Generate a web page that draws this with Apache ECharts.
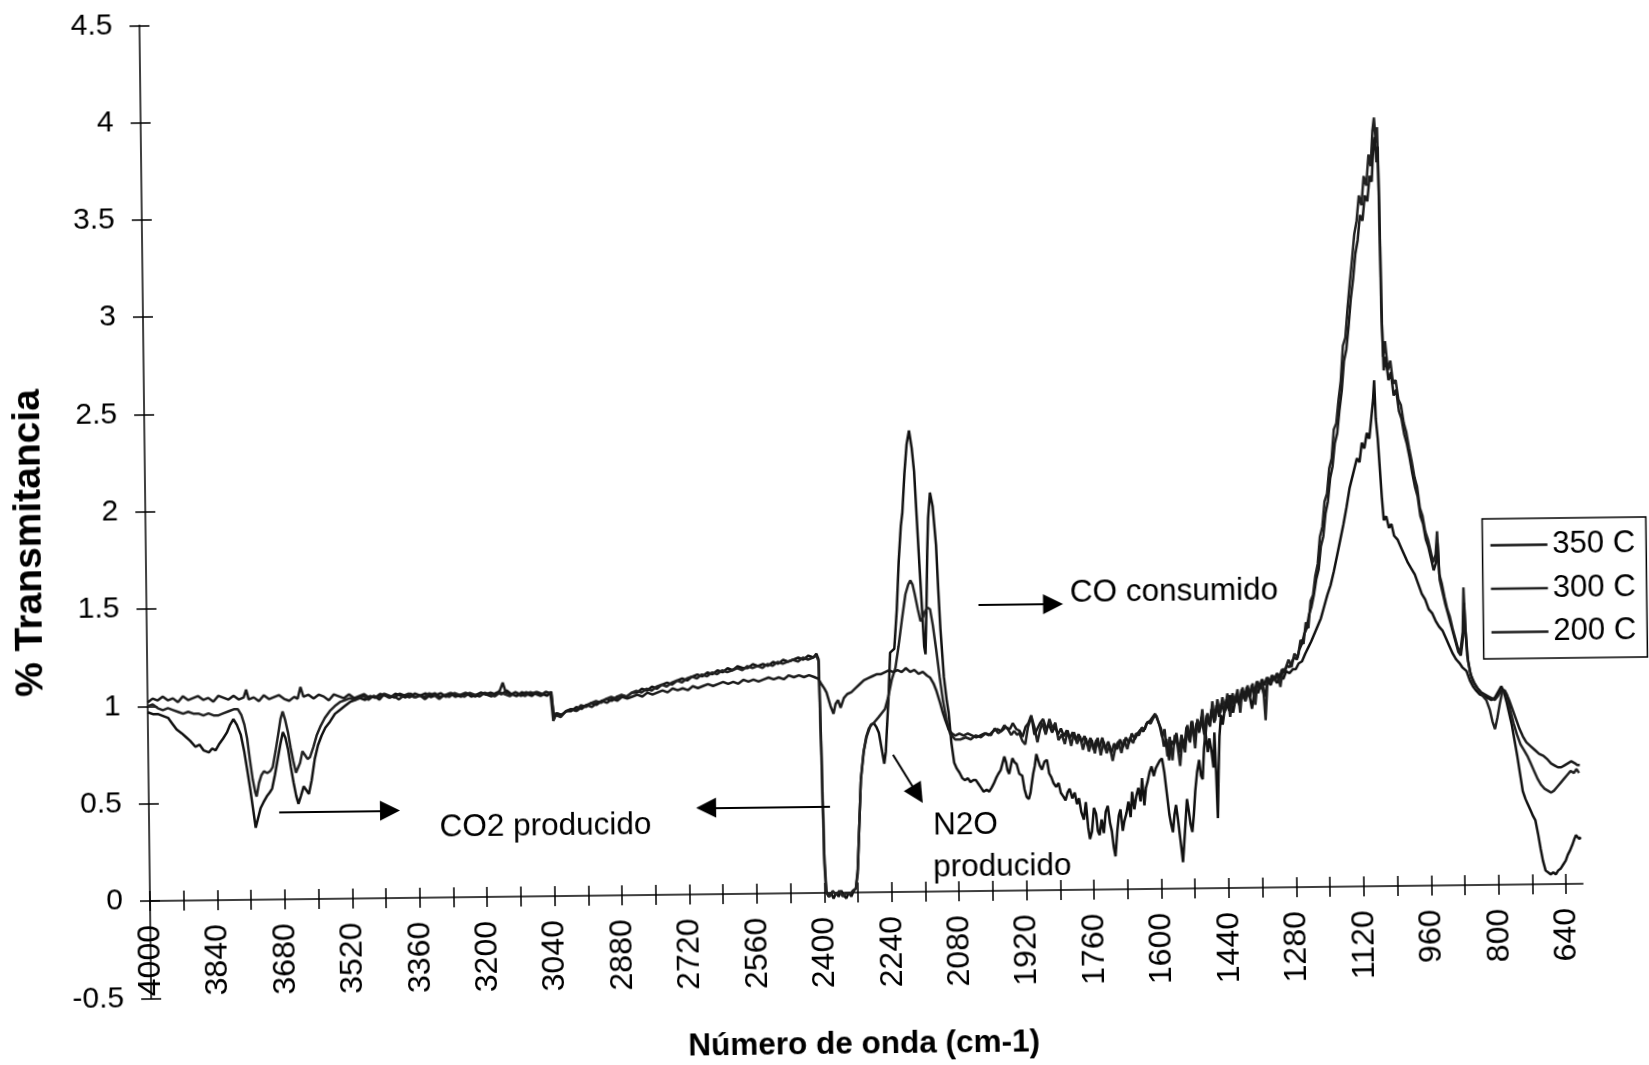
<!DOCTYPE html>
<html><head><meta charset="utf-8">
<script src="https://cdn.jsdelivr.net/npm/echarts@6/dist/echarts.min.js"></script>
<style>
html,body{margin:0;padding:0;background:#fff;overflow:hidden;width:1649px;height:1065px;}
#chart{position:absolute;left:0;top:0;width:1680px;height:1100px;transform-origin:150px 901px;transform:rotate(-0.69deg);}
</style></head><body><div id="chart"></div>
<script>
const xLabelValues = [4000,3840,3680,3520,3360,3200,3040,2880,2720,2560,2400,2240,2080,1920,1760,1600,1440,1280,1120,960,800,640];
const xTickValues = [4000,3920,3840,3760,3680,3600,3520,3440,3360,3280,3200,3120,3040,2960,2880,2800,2720,2640,2560,2480,2400,2320,2240,2160,2080,2000,1920,1840,1760,1680,1600,1520,1440,1360,1280,1200,1120,1040,960,880,800,720,640];
const seriesNames = ['350 C','300 C','200 C'];

const t350 = [[4000,0.97],[3988,0.96],[3976,0.96],[3964,0.95],[3952,0.94],[3942,0.91],[3932,0.88],[3920,0.86],[3910,0.84],[3900,0.82],[3888,0.79],[3878,0.8],[3868,0.77],[3856,0.76],[3848,0.78],[3840,0.77],[3832,0.8],[3822,0.83],[3813,0.86],[3805,0.9],[3797,0.93],[3789,0.9],[3780,0.85],[3772,0.76],[3765,0.66],[3759,0.57],[3753,0.47],[3747,0.37],[3741,0.42],[3735,0.47],[3728,0.5],[3720,0.53],[3713,0.55],[3707,0.57],[3700,0.64],[3693,0.72],[3686,0.8],[3680,0.86],[3674,0.83],[3668,0.77],[3662,0.68],[3656,0.6],[3650,0.53],[3645,0.49],[3639,0.53],[3632,0.58],[3626,0.56],[3620,0.54],[3613,0.61],[3605,0.72],[3597,0.79],[3588,0.84],[3579,0.88],[3568,0.91],[3556,0.95],[3544,0.97],[3532,0.99],[3520,1.01],[3508,1.02],[3496,1.03],[3484,1.02],[3472,1.04],[3460,1.03],[3448,1.05],[3436,1.04],[3424,1.03],[3412,1.05],[3400,1.04],[3388,1.03],[3376,1.05],[3364,1.03],[3352,1.04],[3340,1.05],[3328,1.03],[3316,1.04],[3304,1.05],[3292,1.03],[3280,1.05],[3268,1.04],[3256,1.03],[3244,1.05],[3232,1.03],[3220,1.04],[3208,1.05],[3196,1.04],[3184,1.03],[3172,1.05],[3160,1.04],[3148,1.06],[3136,1.04],[3124,1.03],[3112,1.05],[3100,1.04],[3088,1.03],[3076,1.05],[3064,1.04],[3052,1.03],[3042,1.05],[3037,0.91],[3031,0.94],[3019,0.93],[3007,0.95],[2995,0.95],[2983,0.97],[2971,0.96],[2959,0.98],[2947,0.99],[2935,0.98],[2923,1.0],[2911,1.01],[2899,1.0],[2887,1.02],[2875,1.03],[2863,1.02],[2851,1.04],[2839,1.04],[2827,1.06],[2815,1.05],[2803,1.07],[2791,1.06],[2779,1.08],[2767,1.09],[2755,1.08],[2743,1.1],[2731,1.11],[2719,1.1],[2707,1.12],[2695,1.13],[2683,1.12],[2671,1.14],[2659,1.13],[2647,1.15],[2635,1.14],[2623,1.16],[2611,1.15],[2599,1.17],[2587,1.16],[2575,1.16],[2563,1.18],[2551,1.17],[2539,1.18],[2527,1.17],[2515,1.19],[2503,1.18],[2491,1.2],[2479,1.19],[2467,1.2],[2455,1.21],[2443,1.2],[2431,1.22],[2419,1.21],[2412,1.23],[2407,1.2],[2403,0.75],[2399,0.2],[2395,0.01],[2390,-0.02],[2384,0.0],[2378,-0.03],[2372,0.0],[2366,-0.02],[2360,0.01],[2354,-0.01],[2348,-0.03],[2342,0.0],[2336,-0.02],[2330,0.01],[2325,0.02],[2320,0.1],[2316,0.3],[2310,0.58],[2302,0.73],[2296,0.8],[2290,0.84],[2284,0.86],[2278,0.87],[2272,0.85],[2266,0.82],[2260,0.74],[2254,0.66],[2250,0.72],[2247,0.83],[2242,1.0],[2237,1.23],[2232,1.24],[2227,1.25],[2220,1.45],[2214,1.7],[2208,1.88],[2204,1.95],[2198,2.15],[2192,2.3],[2186,2.37],[2180,2.28],[2175,2.16],[2170,1.92],[2165,1.68],[2160,1.45],[2156,1.26],[2153,1.22],[2149,1.5],[2146,1.75],[2143,1.92],[2138,2.05],[2132,1.98],[2125,1.78],[2121,1.55],[2117,1.35],[2110,1.1],[2104,0.98],[2100,0.92],[2094,0.76],[2088,0.66],[2082,0.63],[2076,0.61],[2069,0.58],[2063,0.57],[2056,0.58],[2050,0.56],[2043,0.57],[2037,0.57],[2031,0.55],[2025,0.53],[2019,0.51],[2012,0.52],[2006,0.51],[2000,0.53],[1995,0.55],[1989,0.58],[1984,0.6],[1978,0.62],[1974,0.61],[1969,0.69],[1965,0.66],[1962,0.62],[1958,0.6],[1955,0.63],[1950,0.68],[1945,0.66],[1940,0.65],[1934,0.6],[1927,0.59],[1922,0.52],[1917,0.48],[1912,0.47],[1908,0.5],[1905,0.545],[1901,0.6],[1897,0.64],[1893,0.7],[1890,0.7],[1885,0.64],[1880,0.62],[1874,0.66],[1868,0.67],[1863,0.6],[1858,0.58],[1853,0.55],[1847,0.53],[1841,0.55],[1836,0.5],[1830,0.48],[1825,0.46],[1820,0.5],[1815,0.52],[1809,0.47],[1803,0.5],[1798,0.44],[1793,0.47],[1788,0.4],[1782,0.36],[1777,0.45],[1772,0.32],[1768,0.26],[1763,0.3],[1758,0.42],[1753,0.39],[1749,0.3],[1745,0.28],[1740,0.36],[1735,0.29],[1730,0.4],[1725,0.43],[1720,0.34],[1716,0.3],[1712,0.22],[1708,0.17],[1703,0.3],[1699,0.38],[1695,0.41],[1690,0.3],[1686,0.35],[1681,0.39],[1676,0.45],[1671,0.37],[1667,0.5],[1662,0.41],[1657,0.48],[1652,0.52],[1647,0.45],[1643,0.57],[1638,0.43],[1634,0.52],[1630,0.55],[1625,0.6],[1620,0.63],[1615,0.58],[1610,0.62],[1605,0.64],[1600,0.66],[1595,0.67],[1590,0.6],[1586,0.52],[1583,0.46],[1579,0.38],[1575,0.33],[1571,0.29],[1567,0.38],[1563,0.43],[1559,0.36],[1555,0.28],[1551,0.2],[1548,0.135],[1545,0.22],[1541,0.34],[1537,0.46],[1533,0.4],[1529,0.33],[1525,0.29],[1521,0.38],[1517,0.5],[1512,0.6],[1507,0.66],[1503,0.58],[1499,0.56],[1495,0.72],[1491,0.8],[1486,0.7],[1482,0.77],[1477,0.7],[1473,0.62],[1470,0.8],[1467,0.6],[1464,0.36],[1461,0.6],[1458,0.78],[1454,0.89],[1450,0.84],[1446,0.9],[1440,0.93],[1432,0.99],[1425,0.9],[1418,0.98],[1410,0.94],[1402,1.0],[1395,0.96],[1388,1.02],[1380,0.92],[1372,1.03],[1365,1.0],[1358,1.05],[1350,0.98],[1342,1.06],[1335,1.04],[1328,1.08],[1320,1.05],[1312,1.09],[1305,1.07],[1298,1.11],[1290,1.1],[1282,1.12],[1275,1.12],[1268,1.15],[1260,1.16],[1252,1.2],[1245,1.23],[1238,1.26],[1230,1.3],[1222,1.34],[1214,1.38],[1206,1.44],[1198,1.5],[1190,1.55],[1182,1.62],[1174,1.7],[1166,1.78],[1158,1.86],[1150,1.95],[1142,2.05],[1136,2.1],[1130,2.15],[1124,2.2],[1118,2.18],[1112,2.28],[1106,2.25],[1100,2.33],[1094,2.3],[1088,2.42],[1084,2.5],[1081,2.6],[1078,2.4],[1074,2.3],[1070,2.15],[1066,2.0],[1062,1.88],[1056,1.9],[1050,1.84],[1044,1.86],[1038,1.8],[1030,1.78],[1022,1.74],[1014,1.7],[1006,1.66],[998,1.63],[990,1.6],[982,1.55],[974,1.5],[966,1.47],[958,1.42],[950,1.4],[942,1.36],[934,1.33],[926,1.31],[918,1.27],[910,1.23],[902,1.19],[894,1.16],[886,1.14],[880,1.12],[870,1.1],[862,1.05],[855,1.02],[848,1.0],[840,0.98],[830,0.97],[820,0.96],[812,0.95],[804,0.96],[796,0.99],[788,1.02],[782,0.99],[776,0.94],[770,0.88],[764,0.82],[758,0.74],[752,0.66],[746,0.57],[740,0.48],[734,0.44],[728,0.41],[722,0.38],[716,0.35],[711,0.33],[705,0.26],[699,0.18],[694,0.12],[688,0.07],[682,0.06],[676,0.05],[670,0.06],[664,0.05],[658,0.07],[652,0.08],[646,0.1],[640,0.12],[635,0.15],[630,0.17],[624,0.2],[619,0.23],[615,0.25],[611,0.24],[607,0.23],[604,0.24]];

const t300 = [[4000,1.0],[3988,1.01],[3976,0.99],[3964,0.98],[3952,0.99],[3940,0.98],[3928,0.97],[3916,0.96],[3904,0.97],[3892,0.96],[3880,0.96],[3868,0.95],[3856,0.96],[3844,0.95],[3832,0.95],[3820,0.96],[3808,0.97],[3796,0.98],[3786,0.98],[3778,0.95],[3771,0.9],[3765,0.83],[3759,0.72],[3753,0.62],[3747,0.55],[3744,0.53],[3738,0.6],[3732,0.64],[3726,0.66],[3718,0.65],[3711,0.66],[3705,0.68],[3698,0.76],[3691,0.85],[3685,0.93],[3680,0.965],[3674,0.92],[3668,0.86],[3662,0.78],[3656,0.71],[3650,0.65],[3646,0.64],[3640,0.7],[3634,0.76],[3628,0.74],[3622,0.72],[3616,0.73],[3608,0.78],[3600,0.84],[3590,0.89],[3580,0.93],[3568,0.965],[3556,0.99],[3544,1.01],[3532,1.02],[3520,1.03],[3508,1.02],[3500,1.03],[3488,1.04],[3476,1.02],[3464,1.04],[3452,1.03],[3440,1.05],[3428,1.03],[3416,1.04],[3404,1.02],[3392,1.04],[3380,1.05],[3368,1.03],[3356,1.04],[3344,1.03],[3332,1.05],[3320,1.04],[3308,1.02],[3296,1.04],[3284,1.03],[3272,1.05],[3260,1.04],[3248,1.03],[3236,1.05],[3224,1.04],[3212,1.03],[3200,1.05],[3188,1.04],[3176,1.03],[3164,1.05],[3152,1.04],[3140,1.03],[3128,1.05],[3116,1.04],[3104,1.03],[3092,1.05],[3080,1.04],[3068,1.03],[3056,1.05],[3044,1.04],[3038,0.9],[3032,0.93],[3020,0.92],[3008,0.95],[2996,0.96],[2984,0.95],[2972,0.98],[2960,0.97],[2948,0.99],[2936,1.0],[2924,0.99],[2912,1.01],[2900,1.02],[2888,1.01],[2876,1.03],[2864,1.02],[2852,1.04],[2840,1.05],[2828,1.04],[2816,1.06],[2804,1.05],[2792,1.07],[2780,1.08],[2768,1.07],[2756,1.09],[2744,1.1],[2732,1.09],[2720,1.11],[2708,1.12],[2696,1.11],[2684,1.13],[2672,1.12],[2660,1.14],[2648,1.13],[2636,1.15],[2624,1.14],[2612,1.15],[2600,1.16],[2588,1.15],[2576,1.17],[2564,1.16],[2552,1.17],[2540,1.16],[2528,1.18],[2516,1.17],[2504,1.19],[2492,1.18],[2480,1.19],[2468,1.2],[2456,1.19],[2444,1.21],[2432,1.2],[2420,1.21],[2412,1.22],[2407,1.19],[2403,0.7],[2399,0.15],[2395,0.0],[2388,-0.02],[2380,0.01],[2372,-0.01],[2364,0.01],[2356,-0.02],[2348,0.0],[2340,-0.01],[2332,0.01],[2325,0.02],[2320,0.12],[2315,0.35],[2310,0.58],[2303,0.72],[2295,0.8],[2285,0.86],[2278,0.87],[2266,0.9],[2251,0.94],[2243,1.0],[2234,1.09],[2225,1.15],[2217,1.26],[2208,1.4],[2199,1.53],[2192,1.58],[2187,1.6],[2182,1.58],[2177,1.53],[2170,1.45],[2164,1.39],[2158,1.41],[2153,1.44],[2147,1.46],[2141,1.45],[2135,1.37],[2128,1.25],[2120,1.1],[2113,0.98],[2105,0.88],[2097,0.81],[2085,0.78],[2073,0.78],[2060,0.79],[2048,0.78],[2036,0.8],[2024,0.79],[2012,0.81],[2000,0.8],[1991,0.835],[1983,0.81],[1976,0.82],[1968,0.85],[1960,0.83],[1952,0.8],[1945,0.82],[1938,0.8],[1933,0.81],[1926,0.77],[1919,0.75],[1912,0.84],[1904,0.895],[1897,0.84],[1890,0.76],[1884,0.82],[1878,0.86],[1870,0.8],[1861,0.88],[1854,0.83],[1847,0.86],[1840,0.77],[1832,0.8],[1825,0.75],[1818,0.82],[1810,0.74],[1803,0.81],[1796,0.75],[1789,0.79],[1782,0.72],[1775,0.78],[1768,0.71],[1761,0.77],[1754,0.7],[1747,0.78],[1740,0.69],[1733,0.76],[1726,0.7],[1719,0.74],[1712,0.66],[1705,0.73],[1698,0.76],[1691,0.7],[1684,0.77],[1677,0.72],[1670,0.78],[1663,0.75],[1656,0.8],[1649,0.79],[1642,0.83],[1635,0.82],[1628,0.86],[1621,0.85],[1614,0.88],[1607,0.89],[1600,0.84],[1594,0.78],[1588,0.82],[1582,0.68],[1576,0.78],[1570,0.66],[1564,0.79],[1558,0.74],[1552,0.63],[1546,0.77],[1540,0.7],[1534,0.84],[1528,0.75],[1522,0.86],[1516,0.72],[1510,0.87],[1504,0.82],[1498,0.92],[1492,0.76],[1486,0.9],[1480,0.83],[1474,0.96],[1468,0.86],[1462,0.97],[1456,0.9],[1450,0.98],[1444,0.92],[1438,1.0],[1432,0.88],[1426,1.0],[1420,0.95],[1414,1.02],[1408,0.9],[1402,1.03],[1396,0.96],[1390,1.04],[1384,0.98],[1378,1.05],[1372,0.94],[1366,1.06],[1360,1.02],[1354,1.07],[1348,0.86],[1342,1.08],[1336,1.05],[1330,1.09],[1324,1.06],[1318,1.1],[1312,1.03],[1306,1.12],[1300,1.12],[1292,1.17],[1285,1.13],[1278,1.2],[1270,1.18],[1263,1.27],[1256,1.25],[1250,1.36],[1244,1.33],[1238,1.47],[1232,1.5],[1226,1.6],[1220,1.66],[1214,1.8],[1208,1.85],[1202,1.98],[1196,2.02],[1190,2.15],[1184,2.2],[1178,2.35],[1172,2.38],[1166,2.5],[1160,2.6],[1154,2.78],[1148,2.82],[1142,2.97],[1136,3.1],[1130,3.22],[1124,3.35],[1118,3.42],[1112,3.55],[1106,3.5],[1100,3.65],[1094,3.6],[1088,3.76],[1083,3.7],[1078,3.88],[1074,3.95],[1070,3.82],[1067,3.9],[1064,3.5],[1062,3.0],[1059,2.72],[1054,2.8],[1048,2.65],[1042,2.7],[1036,2.58],[1030,2.6],[1024,2.5],[1018,2.47],[1012,2.38],[1006,2.33],[1000,2.25],[994,2.18],[988,2.1],[982,2.05],[976,1.94],[970,1.9],[964,1.82],[958,1.78],[952,1.72],[946,1.66],[940,1.7],[936,1.82],[932,1.6],[926,1.55],[920,1.48],[914,1.42],[908,1.38],[902,1.32],[896,1.27],[890,1.22],[884,1.2],[878,1.3],[875,1.53],[872,1.35],[868,1.18],[862,1.1],[856,1.05],[848,1.02],[840,1.0],[832,0.97],[824,0.95],[816,0.9],[810,0.84],[804,0.8],[798,0.86],[792,0.93],[786,0.99],[780,1.0],[774,0.97],[768,0.9],[760,0.83],[752,0.77],[744,0.72],[736,0.69],[728,0.66],[720,0.62],[712,0.58],[704,0.54],[696,0.51],[688,0.49],[680,0.48],[673,0.47],[666,0.48],[658,0.5],[650,0.52],[642,0.54],[634,0.56],[626,0.58],[618,0.57],[612,0.59],[606,0.57]];

const t200 = [[4000,1.02],[3988,1.04],[3976,1.03],[3964,1.05],[3952,1.03],[3940,1.04],[3928,1.02],[3916,1.05],[3904,1.03],[3892,1.04],[3880,1.05],[3868,1.03],[3856,1.04],[3844,1.02],[3832,1.05],[3820,1.04],[3808,1.03],[3796,1.05],[3784,1.03],[3772,1.04],[3766,1.08],[3760,1.03],[3748,1.04],[3736,1.02],[3724,1.05],[3712,1.03],[3700,1.04],[3688,1.05],[3676,1.03],[3664,1.02],[3652,1.04],[3644,1.03],[3637,1.09],[3630,1.04],[3618,1.05],[3606,1.03],[3594,1.05],[3582,1.04],[3570,1.02],[3558,1.05],[3546,1.04],[3534,1.03],[3522,1.05],[3510,1.03],[3498,1.04],[3486,1.05],[3474,1.03],[3462,1.04],[3450,1.02],[3438,1.05],[3426,1.04],[3414,1.03],[3402,1.05],[3390,1.04],[3378,1.03],[3366,1.05],[3354,1.04],[3342,1.02],[3330,1.04],[3318,1.05],[3306,1.03],[3294,1.04],[3282,1.05],[3270,1.03],[3258,1.04],[3246,1.05],[3234,1.04],[3222,1.03],[3210,1.05],[3198,1.04],[3186,1.05],[3174,1.04],[3164,1.06],[3157,1.1],[3150,1.05],[3138,1.04],[3126,1.05],[3114,1.03],[3102,1.05],[3090,1.04],[3078,1.05],[3066,1.03],[3054,1.05],[3042,1.04],[3036,0.92],[3030,0.94],[3018,0.93],[3006,0.95],[2994,0.96],[2982,0.95],[2970,0.97],[2958,0.98],[2946,0.97],[2934,0.99],[2922,1.0],[2910,0.99],[2898,1.01],[2886,1.0],[2874,1.02],[2862,1.01],[2850,1.02],[2838,1.03],[2826,1.02],[2814,1.04],[2802,1.03],[2790,1.04],[2778,1.05],[2766,1.04],[2754,1.06],[2742,1.05],[2730,1.06],[2718,1.05],[2706,1.07],[2694,1.06],[2682,1.07],[2670,1.08],[2658,1.07],[2646,1.08],[2634,1.09],[2622,1.08],[2610,1.09],[2598,1.08],[2586,1.1],[2574,1.09],[2562,1.1],[2550,1.09],[2538,1.1],[2526,1.11],[2514,1.1],[2502,1.11],[2490,1.1],[2478,1.12],[2466,1.11],[2454,1.12],[2442,1.11],[2430,1.12],[2418,1.11],[2408,1.1],[2400,1.07],[2394,1.05],[2389,1.03],[2380,0.96],[2373,0.92],[2368,0.97],[2362,0.99],[2356,0.95],[2348,1.0],[2340,1.02],[2330,1.03],[2320,1.05],[2310,1.07],[2300,1.09],[2290,1.1],[2280,1.11],[2270,1.12],[2260,1.12],[2250,1.13],[2240,1.14],[2230,1.13],[2220,1.14],[2210,1.13],[2200,1.15],[2190,1.13],[2180,1.14],[2170,1.12],[2160,1.13],[2150,1.11],[2143,1.1],[2135,1.07],[2128,1.03],[2120,0.97],[2114,0.92],[2108,0.88],[2100,0.83],[2092,0.81],[2085,0.8],[2075,0.81],[2065,0.8],[2055,0.81],[2045,0.8],[2035,0.79],[2025,0.8],[2015,0.81],[2005,0.8],[1995,0.82],[1985,0.83],[1975,0.82],[1965,0.84],[1955,0.83],[1948,0.86],[1940,0.83],[1932,0.82],[1925,0.79],[1918,0.84],[1911,0.86],[1904,0.9],[1897,0.8],[1890,0.83],[1883,0.86],[1876,0.88],[1869,0.83],[1862,0.85],[1855,0.81],[1848,0.84],[1841,0.8],[1834,0.83],[1827,0.79],[1820,0.82],[1813,0.78],[1806,0.81],[1799,0.77],[1792,0.8],[1785,0.76],[1778,0.79],[1771,0.74],[1764,0.78],[1757,0.72],[1750,0.77],[1743,0.73],[1736,0.78],[1729,0.72],[1722,0.76],[1715,0.7],[1708,0.75],[1701,0.72],[1694,0.77],[1687,0.73],[1680,0.78],[1673,0.75],[1666,0.8],[1659,0.77],[1652,0.8],[1645,0.82],[1638,0.81],[1631,0.85],[1624,0.86],[1617,0.88],[1610,0.9],[1603,0.86],[1596,0.82],[1590,0.73],[1584,0.77],[1578,0.66],[1572,0.76],[1566,0.74],[1560,0.8],[1554,0.7],[1548,0.79],[1542,0.72],[1536,0.83],[1530,0.76],[1524,0.86],[1518,0.78],[1512,0.85],[1506,0.8],[1500,0.88],[1494,0.79],[1488,0.89],[1482,0.84],[1476,0.92],[1470,0.85],[1464,0.94],[1458,0.88],[1452,0.95],[1446,0.9],[1440,0.97],[1434,0.91],[1428,0.99],[1422,0.94],[1416,1.0],[1410,0.95],[1404,1.02],[1398,0.97],[1392,1.03],[1386,0.98],[1380,1.04],[1374,1.0],[1368,1.06],[1362,1.02],[1356,1.07],[1350,1.04],[1344,1.08],[1338,1.05],[1332,1.09],[1326,1.07],[1320,1.1],[1314,1.08],[1308,1.12],[1302,1.1],[1296,1.14],[1290,1.13],[1284,1.16],[1278,1.18],[1272,1.17],[1266,1.22],[1260,1.25],[1254,1.3],[1248,1.33],[1242,1.4],[1236,1.44],[1230,1.5],[1224,1.58],[1218,1.63],[1212,1.75],[1206,1.8],[1200,1.92],[1194,1.98],[1188,2.1],[1182,2.16],[1176,2.28],[1170,2.33],[1164,2.45],[1158,2.55],[1152,2.7],[1146,2.76],[1140,2.88],[1134,3.02],[1128,3.12],[1122,3.25],[1116,3.32],[1110,3.45],[1104,3.42],[1098,3.55],[1092,3.52],[1086,3.65],[1081,3.62],[1077,3.78],[1073,3.85],[1069,3.72],[1066,3.8],[1063,3.3],[1061,2.9],[1058,2.65],[1053,2.72],[1047,2.6],[1041,2.64],[1035,2.52],[1029,2.55],[1023,2.44],[1017,2.4],[1011,2.32],[1005,2.27],[999,2.2],[993,2.12],[987,2.05],[981,2.0],[975,1.9],[969,1.86],[963,1.78],[957,1.74],[951,1.68],[945,1.62],[939,1.66],[935,1.76],[931,1.57],[925,1.51],[919,1.45],[913,1.4],[907,1.35],[901,1.3],[895,1.25],[889,1.2],[883,1.18],[877,1.28],[874,1.45],[871,1.3],[866,1.15],[860,1.08],[852,1.04],[844,1.01],[836,0.99],[828,0.98],[820,0.97],[812,0.96],[804,0.95],[796,0.97],[788,1.0],[782,1.0],[776,0.98],[770,0.95],[762,0.9],[754,0.85],[746,0.8],[738,0.76],[730,0.73],[720,0.71],[710,0.69],[700,0.67],[690,0.66],[680,0.64],[672,0.62],[664,0.61],[656,0.6],[648,0.6],[640,0.61],[632,0.62],[624,0.63],[616,0.62],[610,0.61],[604,0.61]];

// annotation arrows [from, to] in data coordinates (wavenumber, transmittance)
const arrowSegments = [
  [[3691,0.45],[3428,0.45]],
  [[2384,0.445],[2678,0.445]],
  [[2233,0.705],[2176,0.50]],
  [[2026,1.47],[1849,1.47]]
];

const FONT = "'Liberation Sans', Arial, Helvetica, sans-serif";
const lineColors = ['#111111','#222222','#1a1a1a'];
const dataSets = [t350, t300, t200];

const chart = echarts.init(document.getElementById('chart'), null, {renderer:'canvas'});
const tickStyle = {color:'#000', width:1.5};
const option = {
  animation: false,
  backgroundColor: '#fff',
  grid: {left:150, top:25.3, width:1433, height:973, containLabel:false, outerBoundsMode:'none'},
  xAxis: [
    {type:'value', min:600, max:4000, inverse:true, position:'bottom', offset:-97.3,
     axisLine:{show:true, onZero:false, lineStyle:{color:'#000', width:1.5}},
     axisTick:{show:true, inside:false, length:10, customValues:xTickValues, lineStyle:tickStyle},
     axisLabel:{show:true, rotate:90, margin:24, customValues:xLabelValues, formatter:v=>String(v), color:'#000', fontFamily:FONT, fontSize:32},
     splitLine:{show:false}},
    {type:'value', min:600, max:4000, inverse:true, position:'top', offset:-875.7,
     axisLine:{show:false, onZero:false},
     axisTick:{show:true, inside:false, length:10, customValues:xTickValues, lineStyle:tickStyle},
     axisLabel:{show:false}, splitLine:{show:false}}
  ],
  yAxis: [
    {type:'value', min:-0.5, max:4.5, interval:0.5, position:'left',
     axisLine:{show:true, onZero:false, lineStyle:{color:'#000', width:1.5}},
     axisTick:{show:true, inside:false, length:10, lineStyle:tickStyle},
     axisLabel:{margin:27, color:'#000', fontFamily:FONT, fontSize:30, formatter:v=>String(v)},
     splitLine:{show:false}},
    {type:'value', min:-0.5, max:4.5, interval:0.5, position:'right', offset:-1433,
     axisLine:{show:false, onZero:false},
     axisTick:{show:true, inside:false, length:10, lineStyle:tickStyle},
     axisLabel:{show:false}, splitLine:{show:false}}
  ],
  legend: {
    orient:'vertical', left:1486.6, top:535, data:seriesNames, selectedMode:false,
    icon:'rect', itemWidth:57, itemHeight:2.5, itemGap:12.5, padding:[11,11,11,8],
    borderColor:'#000', borderWidth:1.5, backgroundColor:'#fff',
    textStyle:{color:'#000', fontFamily:FONT, fontSize:31}
  },
  graphic: [
    {type:'text', x:34.4, y:541.6, rotation:Math.PI/2, style:{text:'% Transmitancia', font:'bold 39px '+FONT, fill:'#000', textAlign:'center', textVerticalAlign:'middle'}},
    {type:'text', x:862.3, y:1053.6, style:{text:'Número de onda (cm-1)', font:'bold 31.5px '+FONT, fill:'#000', textAlign:'center', textVerticalAlign:'middle'}},
    {type:'text', x:440.5, y:831.5, style:{text:'CO2 producido', font:'31.5px '+FONT, fill:'#000', textAlign:'left', textVerticalAlign:'middle'}},
    {type:'text', x:933.9, y:835.1, style:{text:'N2O', font:'31.5px '+FONT, fill:'#000', textAlign:'left', textVerticalAlign:'middle'}},
    {type:'text', x:933.4, y:877.4, style:{text:'producido', font:'31.5px '+FONT, fill:'#000', textAlign:'left', textVerticalAlign:'middle'}},
    {type:'text', x:1073.5, y:604.1, style:{text:'CO consumido', font:'31.5px '+FONT, fill:'#000', textAlign:'left', textVerticalAlign:'middle'}}
  ],
  series: seriesNames.map((name, i) => {
    const s = {
      name, type:'line', data:dataSets[i], xAxisIndex:0, yAxisIndex:0,
      showSymbol:false, symbol:'none', clip:true,
      lineStyle:{color:lineColors[i], width:2.5}, itemStyle:{color:lineColors[i]},
      emphasis:{disabled:true}
    };
    if (i === 0) {
      s.markLine = {
        silent:true, animation:false, symbol:['none','triangle'], symbolSize:20,
        label:{show:false}, emphasis:{disabled:true},
        lineStyle:{color:'#000', width:2, type:'solid'},
        itemStyle:{color:'#000'},
        data: arrowSegments.map(seg => [{coord:seg[0]}, {coord:seg[1]}])
      };
    }
    return s;
  })
};
chart.setOption(option);
</script>
</body></html>
